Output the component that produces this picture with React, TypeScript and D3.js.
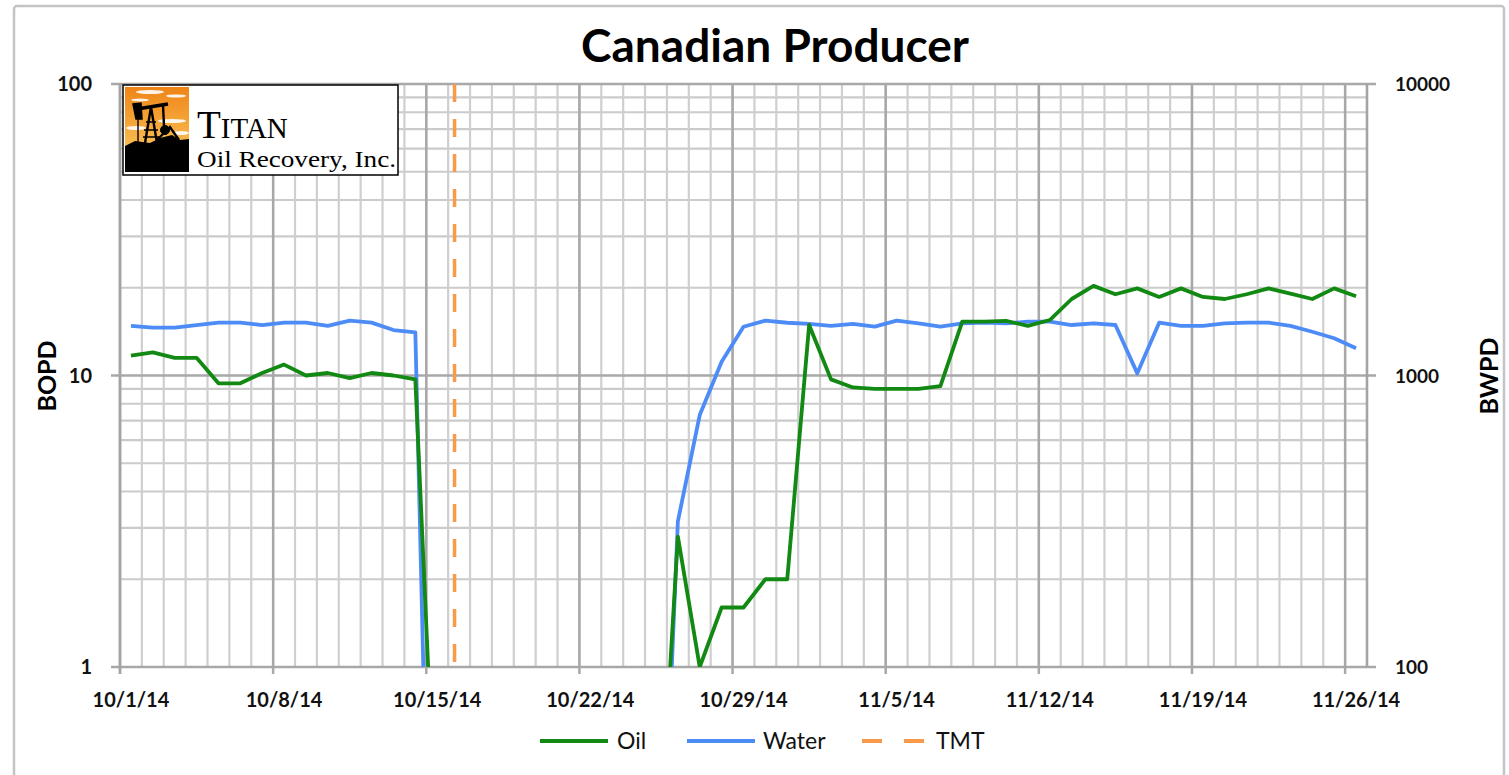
import React from "react";
import * as d3 from "d3";

const days: string[] = [
  "2014-10-01","2014-10-02","2014-10-03","2014-10-04","2014-10-05","2014-10-06","2014-10-07",
  "2014-10-08","2014-10-09","2014-10-10","2014-10-11","2014-10-12","2014-10-13","2014-10-14",
  "2014-10-15","2014-10-16","2014-10-17","2014-10-18","2014-10-19","2014-10-20","2014-10-21",
  "2014-10-22","2014-10-23","2014-10-24","2014-10-25","2014-10-26","2014-10-27","2014-10-28",
  "2014-10-29","2014-10-30","2014-10-31","2014-11-01","2014-11-02","2014-11-03","2014-11-04",
  "2014-11-05","2014-11-06","2014-11-07","2014-11-08","2014-11-09","2014-11-10","2014-11-11",
  "2014-11-12","2014-11-13","2014-11-14","2014-11-15","2014-11-16","2014-11-17","2014-11-18",
  "2014-11-19","2014-11-20","2014-11-21","2014-11-22","2014-11-23","2014-11-24","2014-11-25",
  "2014-11-26",
];

const oil: (number | null)[] = [
  11.7, 12.0, 11.5, 11.5, 9.4, 9.4, 10.2, 10.9, 10.0, 10.2, 9.8, 10.2, 10.0, 9.7,
  0.2, null, null, null, null, null, null, null, null, null, 0.15, 2.8, 1.0, 1.6,
  1.6, 2.0, 2.0, 14.9, 9.7, 9.1, 9.0, 9.0, 9.0, 9.2, 15.3, 15.3, 15.4, 14.8,
  15.5, 18.3, 20.3, 19.0, 19.9, 18.6, 19.9, 18.6, 18.3, 19.0, 19.9, 19.1, 18.3, 19.9,
  18.7,
];

const water: (number | null)[] = [
  1479, 1459, 1459, 1490, 1518, 1518, 1490, 1518, 1518, 1479, 1542, 1518, 1432, 1406,
  1, null, null, null, null, null, null, null, null, null, 5, 316, 732, 1115,
  1470, 1542, 1517, 1503, 1479, 1503, 1472, 1542, 1510, 1472, 1510, 1518, 1510, 1530,
  1530, 1490, 1510, 1490, 1017, 1518, 1479, 1479, 1510, 1518, 1518, 1479, 1413, 1342,
  1240,
];

const tmtDate = "2014-10-16T07:00";

const xTickLabels: string[] = [
  "10/1/14","10/8/14","10/15/14","10/22/14","10/29/14","11/5/14","11/12/14","11/19/14","11/26/14",
];
const leftTicks: number[] = [1, 10, 100];
const rightTicks: number[] = [100, 1000, 10000];
const legendItems: string[] = ["Oil", "Water", "TMT"];

const parse = (s: string) => new Date(s.length > 10 ? s : s + "T00:00");

const W = 1509;
const H = 775;
const M = { left: 120, right: 1367, top: 84, bottom: 667 };

const OIL_C = "#128912";
const WATER_C = "#4d8cf7";
const TMT_C = "#f79a4a";
const FONT = "Lato, 'Open Sans', sans-serif";
const SERIF = "'Liberation Serif', 'DejaVu Serif', serif";

export default function App() {
  const start = parse(days[0]);
  const end = d3.timeDay.offset(parse(days[days.length - 1]), 1);
  const x = d3.scaleTime().domain([start, end]).range([M.left, M.right]);
  const yL = d3.scaleLog().domain([1, 100]).range([M.bottom, M.top]);
  const yR = d3.scaleLog().domain([100, 10000]).range([M.bottom, M.top]);
  const center = (s: string) => x(d3.timeHour.offset(parse(s), 12));

  const dayTicks = x.ticks(d3.timeDay.every(1)!).filter((d) => d <= end);
  const weekTicks = d3.range(0, 9).map((i) => d3.timeDay.offset(start, i * 7));

  const minorY: number[] = [];
  for (const dec of [1, 10]) for (let k = 2; k <= 9; k++) minorY.push(dec * k);

  const oilLine = d3
    .line<number | null>()
    .defined((d) => d != null)
    .x((_, i) => center(days[i]))
    .y((d) => yL(d as number));
  const waterLine = d3
    .line<number | null>()
    .defined((d) => d != null)
    .x((_, i) => center(days[i]))
    .y((d) => yR(d as number));

  const tmtX = x(parse(tmtDate));

  const legendX = [540, 687, 862];
  const legendTextX = [617, 763, 936];
  const legendColors = [OIL_C, WATER_C, TMT_C];
  const ly = 741;

  return (
    <svg
      width={W}
      height={H}
      style={{ position: "absolute", left: 0, top: 0, background: "#fff" }}
      fontFamily={FONT}
    >
      <defs>
        <clipPath id="plot">
          <rect x={M.left} y={M.top - 2} width={M.right - M.left} height={M.bottom - M.top + 2} />
        </clipPath>
        <linearGradient id="sky" x1="0" y1="0" x2="0" y2="1">
          <stop offset="0" stopColor="#ef8416" />
          <stop offset="1" stopColor="#f9bd52" />
        </linearGradient>
      </defs>

      {/* outer frame */}
      <rect x={14} y={6} width={1490} height={800} rx={3} fill="#fff" stroke="#c4c4c4" strokeWidth={2.5} />

      {/* title */}
      <text x={775} y={62} textAnchor="middle" fontSize={46} fontWeight={700} fill="#000">
        Canadian Producer
      </text>

      {/* minor horizontal grid */}
      {minorY.map((v) => (
        <line key={"h" + v} x1={M.left} x2={M.right} y1={yL(v)} y2={yL(v)} stroke="#cbcbcb" strokeWidth={2.2} />
      ))}
      {/* minor vertical grid */}
      {dayTicks.map((d, i) => (
        <line key={"v" + i} x1={x(d)} x2={x(d)} y1={M.top} y2={M.bottom} stroke="#cfcfcf" strokeWidth={2.2} />
      ))}
      {/* major vertical grid */}
      {weekTicks.map((d, i) => (
        <line key={"w" + i} x1={x(d)} x2={x(d)} y1={M.top} y2={M.bottom + 7} stroke="#a8a8a8" strokeWidth={2.5} />
      ))}
      {/* major horizontal grid */}
      {leftTicks.map((v) => (
        <line key={"H" + v} x1={M.left - 9} x2={M.right + 9} y1={yL(v)} y2={yL(v)} stroke="#a8a8a8" strokeWidth={2.5} />
      ))}
      {/* axis lines */}
      <line x1={M.left} x2={M.left} y1={M.top} y2={M.bottom + 7} stroke="#a4a4a4" strokeWidth={2.5} />
      <line x1={M.right} x2={M.right} y1={M.top} y2={M.bottom} stroke="#a4a4a4" strokeWidth={2.5} />

      {/* series */}
      <g clipPath="url(#plot)">
        <path d={waterLine(water) || ""} fill="none" stroke={WATER_C} strokeWidth={3.8} strokeLinejoin="round" />
        <path d={oilLine(oil) || ""} fill="none" stroke={OIL_C} strokeWidth={3.8} strokeLinejoin="round" />
        <line x1={tmtX} x2={tmtX} y1={M.top} y2={M.bottom} stroke={TMT_C} strokeWidth={3.5} strokeDasharray="18 17" />
      </g>

      {/* left ticks */}
      {leftTicks.map((v) => (
        <text key={"lt" + v} x={92} y={yL(v) + 7} textAnchor="end" fontSize={20} fontWeight={700} fill="#111">
          {String(v)}
        </text>
      ))}
      {/* right ticks */}
      {rightTicks.map((v) => (
        <text key={"rt" + v} x={1395} y={yR(v) + 7} textAnchor="start" fontSize={19} fontWeight={700} fill="#111">
          {String(v)}
        </text>
      ))}
      {/* x tick labels */}
      {xTickLabels.map((t, i) => (
        <text
          key={"xt" + t}
          x={x(d3.timeHour.offset(weekTicks[i], 12))}
          y={707}
          textAnchor="middle"
          fontSize={20}
          fontWeight={700}
          fill="#111"
        >
          {t}
        </text>
      ))}

      {/* axis titles */}
      <text transform="translate(56,376) rotate(-90)" textAnchor="middle" fontSize={25} fontWeight={700} fill="#000">
        BOPD
      </text>
      <text transform="translate(1498,376) rotate(-90)" textAnchor="middle" fontSize={25} fontWeight={700} fill="#000">
        BWPD
      </text>

      {/* legend */}
      {legendItems.map((name, i) => (
        <g key={name}>
          <line
            x1={legendX[i]}
            x2={legendX[i] + 68}
            y1={ly}
            y2={ly}
            stroke={legendColors[i]}
            strokeWidth={4}
            strokeDasharray={i === 2 ? "20 22" : undefined}
          />
          <text x={legendTextX[i]} y={ly + 8} fontSize={23} fill="#111">
            {name}
          </text>
        </g>
      ))}

      {/* logo */}
      <g>
        <rect x={123} y={85} width={275} height={90} fill="#fff" stroke="#000" strokeWidth={1.5} />
        <rect x={125} y={87} width={64} height={60} fill="url(#sky)" />
        <g fill="#fff" opacity={0.9}>
          <ellipse cx={150} cy={92} rx={14} ry={2} />
          <ellipse cx={176} cy={96} rx={10} ry={1.6} />
          <ellipse cx={140} cy={100} rx={9} ry={1.5} />
          <ellipse cx={172} cy={121} rx={14} ry={2} />
          <ellipse cx={136} cy={128} rx={10} ry={2} />
          <ellipse cx={181} cy={133} rx={8} ry={2} />
        </g>
        <path
          d="M125,146 L135,141 L150,143 L160,138 L172,135 L180,140 L189,139 L189,172 L125,172 Z"
          fill="#000"
        />
        <g stroke="#000" fill="none">
          <path d="M137,109 L168,104" strokeWidth={3.5} />
          <path d="M133,104 L141,103 L142,119 L136,119 Z" fill="#000" strokeWidth={1.5} />
          <path d="M138,119 L138,143" strokeWidth={1.4} />
          <path d="M145,143 L151,107 L157,143" strokeWidth={2.4} />
          <path d="M146,122 L156,122 M144,130 L158,130 M143,137 L159,137" strokeWidth={1.3} />
          <path d="M163,105 L164,126" strokeWidth={2.4} />
          <circle cx={165} cy={130} r={4.5} fill="#000" />
          <path d="M157,140 L170,127 L179,140" strokeWidth={2.4} />
        </g>
        <text x={197} y={138} fontFamily={SERIF} fill="#000">
          <tspan fontSize={39}>T</tspan>
          <tspan fontSize={29}>ITAN</tspan>
        </text>
        <text
          x={197}
          y={167}
          fontFamily={SERIF}
          fontSize={24}
          fill="#000"
          textLength={199}
          lengthAdjust="spacingAndGlyphs"
        >
          Oil Recovery, Inc.
        </text>
      </g>
    </svg>
  );
}
